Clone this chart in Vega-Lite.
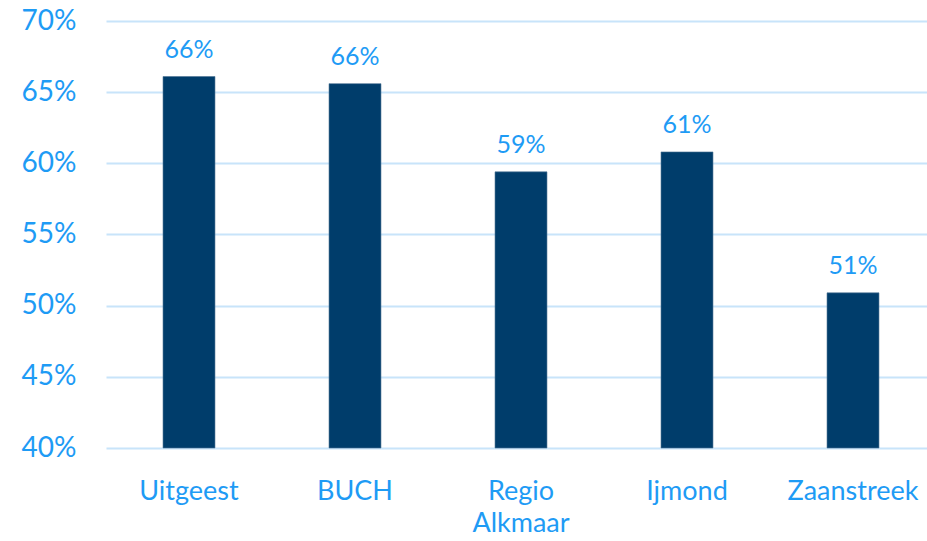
{
  "$schema": "https://vega.github.io/schema/vega-lite/v6.json",
  "autosize": "none",
  "width": 830,
  "height": 427,
  "padding": {"left": 106, "top": 21, "right": 0, "bottom": 93},
  "background": "white",
  "config": {"view": {"stroke": null}, "font": "Lato"},
  "data": {"values": [
    {"regio": "Uitgeest", "waarde": 0.661},
    {"regio": "BUCH", "waarde": 0.656},
    {"regio": "Regio Alkmaar", "waarde": 0.594},
    {"regio": "Ijmond", "waarde": 0.608},
    {"regio": "Zaanstreek", "waarde": 0.509}
  ]},
  "encoding": {
    "x": {"field": "regio", "type": "nominal", "sort": null,
      "scale": {"paddingInner": 0.687, "paddingOuter": 0.3435},
      "axis": {"title": null, "labelAngle": 0, "domain": false, "ticks": false,
        "labelFont": "Lato", "labelFontSize": 27, "labelColor": "#1E9BF5",
        "labelPadding": 30, "labelLineHeight": 32, "labelExpr": "split(datum.label, ' ')"}},
    "y": {"field": "waarde", "type": "quantitative",
      "scale": {"domain": [0.4, 0.7], "nice": false, "zero": false},
      "axis": {"title": null, "format": ".0%", "values": [0.4, 0.45, 0.5, 0.55, 0.6, 0.65, 0.7],
        "domain": false, "ticks": false, "grid": true, "gridColor": "#C8E4FA", "gridWidth": 2,
        "labelFont": "Lato", "labelFontSize": 28, "labelColor": "#1E9BF5", "labelPadding": 30}}
  },
  "layer": [
    {"mark": {"type": "bar", "color": "#003D6B", "stroke": "#4D7394", "strokeWidth": 0.6},
      "encoding": {"y2": {"datum": 0.4}}},
    {"mark": {"type": "text", "baseline": "bottom", "dy": -14, "font": "Lato", "fontSize": 25, "color": "#1E9BF5"},
      "encoding": {"text": {"field": "waarde", "type": "quantitative", "format": ".0%"}}}
  ]
}
